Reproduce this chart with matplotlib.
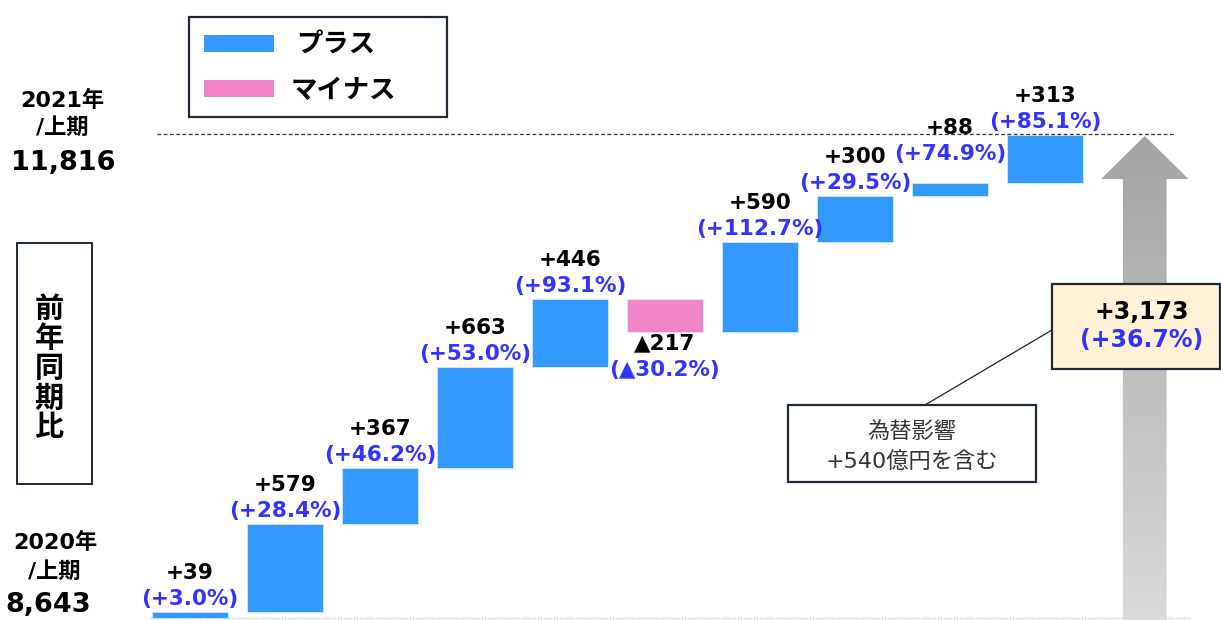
import numpy as np
import matplotlib
matplotlib.use("Agg")
import matplotlib.pyplot as plt
from matplotlib.patches import Rectangle, Polygon
from matplotlib.lines import Line2D
from matplotlib.colors import LinearSegmentedColormap

plt.rcParams['font.family'] = ['DejaVu Sans', 'Noto Sans CJK JP']

# ---- data -------------------------------------------------------------
start_label = ["2020年", "/上期"]
end_label = ["2021年", "/上期"]
start_value = 8643
end_value = 11816
changes = [39, 579, 367, 663, 446, -217, 590, 300, 88, 313]
change_pct = [3.0, 28.4, 46.2, 53.0, 93.1, -30.2, 112.7, 29.5, 74.9, 85.1]
legend_labels = ["プラス", "マイナス"]
side_title = "前年同期比"
note_lines = ["為替影響", "+540億円を含む"]

# ---- style ------------------------------------------------------------
BLUE = "#3399ff"
PINK = "#f084c4"
PCT_COLOR = "#3333ff"
DARK = "#1f2a36"
LABEL_FS = 15.5

W, H = 1221, 620
fig = plt.figure(figsize=(W / 100, H / 100), dpi=100)
ax = fig.add_axes([0, 0, 1, 1])
ax.set_axis_off()


def fx(x):
    return x / W


def fy(y):
    return 1 - y / H


def fig_rect(x0, y0, x1, y1, **kw):
    r = Rectangle((fx(x0), fy(y1)), (x1 - x0) / W, (y1 - y0) / H,
                  transform=fig.transFigure, **kw)
    fig.add_artist(r)
    return r


# ---- waterfall bars ---------------------------------------------------
n = len(changes)
xs = np.arange(n)
cum = start_value + np.cumsum(changes)
bottoms = np.concatenate([[start_value], cum[:-1]])
heights = np.array(changes)
colors = [BLUE if c >= 0 else PINK for c in changes]
ax.bar(xs, heights, bottom=bottoms, width=0.8, color=colors,
       edgecolor="#d6e9ff", linewidth=0.6, zorder=3)

# axis scale: categories on x, values on y
ppu = 484 / (end_value - start_value)          # pixels per unit
y_lo = start_value - 2 / ppu
y_hi = start_value + 618 / ppu
x_lo, x_hi = -190 / 95, (W - 190) / 95

# ---- gradient arrow for the total -------------------------------------
ax_c = n + 0.05
shaft_hw, head_hw = 0.23, 0.46
tip = end_value - 13
head_base = tip - 282
arrow = Polygon([(ax_c - shaft_hw, y_lo - 100), (ax_c - shaft_hw, head_base),
                 (ax_c - head_hw, head_base), (ax_c, tip),
                 (ax_c + head_hw, head_base), (ax_c + shaft_hw, head_base),
                 (ax_c + shaft_hw, y_lo - 100)],
                closed=True, facecolor="none", edgecolor="none",
                transform=ax.transData)
ax.add_patch(arrow)
cmap = LinearSegmentedColormap.from_list("grey_up", ["#dadada", "#a3a3a3"])
grad = np.linspace(0, 1, 256).reshape(-1, 1)
img = ax.imshow(grad, cmap=cmap, origin="lower", aspect="auto",
                extent=[ax_c - head_hw, ax_c + head_hw, y_lo, tip],
                zorder=1)
img.set_clip_path(arrow)

# ---- reference lines ---------------------------------------------------
ax.plot([-0.35, 10.37], [end_value, end_value], color="#333333",
        lw=0.9, ls=(0, (3, 2)), zorder=4)
ax.plot([-0.42, 10.53], [start_value, start_value], color="#b0b0b0",
        lw=0.9, ls=(0, (1, 1.5)), zorder=0)

ax.set_xlim(x_lo, x_hi)
ax.set_ylim(y_lo, y_hi)

# ---- bar labels ---------------------------------------------------------
PX = 0.72  # points per pixel at 100 dpi
extra_lift = {8: 16}


def fmt_val(v):
    return f"+{v:,}" if v >= 0 else f"▲{abs(v):,}"


def fmt_pct(p):
    return f"(+{p:.1f}%)" if p >= 0 else f"(▲{abs(p):.1f}%)"


for i, (c, p) in enumerate(zip(changes, change_pct)):
    if c >= 0:
        top = bottoms[i] + c
        lift = extra_lift.get(i, 0)
        ax.annotate(fmt_pct(p), (i, top), xytext=(0, (13 + lift) * PX),
                    textcoords="offset points", ha="center", va="center",
                    fontsize=LABEL_FS, fontweight="bold", color=PCT_COLOR,
                    zorder=5)
        ax.annotate(fmt_val(c), (i, top), xytext=(0, (39 + lift) * PX),
                    textcoords="offset points", ha="center", va="center",
                    fontsize=LABEL_FS, fontweight="bold", color="black",
                    zorder=5)
    else:
        low = bottoms[i] + c
        ax.annotate(fmt_val(c), (i, low), xytext=(0, -12 * PX),
                    textcoords="offset points", ha="center", va="center",
                    fontsize=LABEL_FS, fontweight="bold", color="black",
                    zorder=5)
        ax.annotate(fmt_pct(p), (i, low), xytext=(0, -38 * PX),
                    textcoords="offset points", ha="center", va="center",
                    fontsize=LABEL_FS, fontweight="bold", color=PCT_COLOR,
                    zorder=5)

# ---- legend box ---------------------------------------------------------
fig_rect(189, 17, 447, 117, fill=False, edgecolor=DARK, lw=1.6)
fig_rect(204, 35, 274, 52, facecolor=BLUE, edgecolor="none")
fig_rect(204, 80, 274, 97, facecolor=PINK, edgecolor="none")
fig.text(fx(296), fy(45), legend_labels[0], ha="left", va="center",
         fontsize=19, fontweight="bold")
fig.text(fx(291), fy(91), legend_labels[1], ha="left", va="center",
         fontsize=19, fontweight="bold")

# ---- start / end labels -----------------------------------------------
fig.text(fx(62), fy(100), end_label[0], ha="center", va="center",
         fontsize=16, fontweight="bold")
fig.text(fx(62), fy(128), end_label[1], ha="center", va="center",
         fontsize=16, fontweight="bold")
fig.text(fx(63), fy(163), f"{end_value:,}", ha="center", va="center",
         fontsize=19.5, fontweight="bold")
fig.text(fx(55), fy(542), start_label[0], ha="center", va="center",
         fontsize=16, fontweight="bold")
fig.text(fx(54), fy(572), start_label[1], ha="center", va="center",
         fontsize=16, fontweight="bold")
fig.text(fx(48), fy(605), f"{start_value:,}", ha="center", va="center",
         fontsize=19.5, fontweight="bold")

# ---- vertical side title --------------------------------------------
fig_rect(17, 243, 92, 484, fill=False, edgecolor=DARK, lw=1.4)
for k, ch in enumerate(side_title):
    fig.text(fx(49), fy(310 + 29.5 * k), ch, ha="center", va="center",
             fontsize=21, fontweight="bold")

# ---- total change box -------------------------------------------------
total = end_value - start_value
fig_rect(1052, 284, 1220, 369, facecolor="#fff2d6", edgecolor=DARK,
         lw=1.6, zorder=6)
fig.text(fx(1142), fy(312), f"+{total:,}", ha="center", va="center",
         fontsize=17, fontweight="bold", zorder=7)
fig.text(fx(1142), fy(340), f"(+{total / start_value * 100:.1f}%)",
         ha="center", va="center", fontsize=17, fontweight="bold",
         color=PCT_COLOR, zorder=7)

# ---- FX note with leader line -----------------------------------------
fig.add_artist(Line2D([fx(925), fx(1052)], [fy(405), fy(330)],
                      transform=fig.transFigure, color="#222222", lw=0.9))
fig_rect(788, 405, 1036, 482, facecolor="white", edgecolor=DARK, lw=1.6,
         zorder=6)
fig.text(fx(912), fy(432), note_lines[0], ha="center", va="center",
         fontsize=16, color="#333333", zorder=7)
fig.text(fx(912), fy(461), note_lines[1], ha="center", va="center",
         fontsize=16, color="#333333", zorder=7)

fig.savefig("out.png", dpi=100, facecolor="white")
